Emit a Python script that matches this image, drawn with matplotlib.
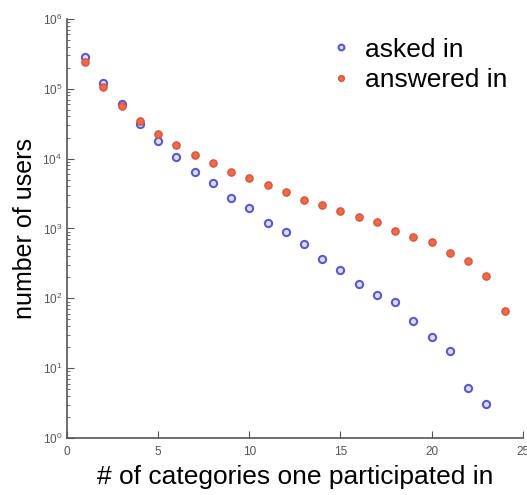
import matplotlib
matplotlib.use("Agg")
import matplotlib.pyplot as plt
from matplotlib.ticker import LogLocator, NullFormatter

plt.rcParams['font.family'] = ['Liberation Sans', 'DejaVu Sans']

# number of categories a user participated in
categories = list(range(1, 25))

# users who asked in that many categories (no value at 24)
asked = [2.8e5, 1.2e5, 6.0e4, 3.1e4, 1.8e4, 1.07e4, 6.5e3, 4.4e3, 2.75e3, 1.95e3,
         1.2e3, 890, 590, 360, 252, 161, 110, 88, 47, 28, 17.5, 5.2, 3.1]

# users who answered in that many categories
answered = [2.4e5, 1.05e5, 5.6e4, 3.5e4, 2.24e4, 1.55e4, 1.13e4, 8.5e3, 6.4e3, 5.2e3,
            4.2e3, 3.3e3, 2.57e3, 2.2e3, 1.78e3, 1.44e3, 1.23e3, 930, 750, 640,
            440, 337, 211, 65]

fig = plt.figure(figsize=(5.27, 4.95), dpi=100)
ax = fig.add_axes([0.127, 0.115, 0.865, 0.847])

ax.plot(categories[:len(asked)], asked, linestyle='none', marker='o', markersize=5.2,
        markerfacecolor='#dcdcf4', markeredgecolor='#5a5acb', markeredgewidth=1.5,
        label='asked in')
ax.plot(categories, answered, linestyle='none', marker='o', markersize=5.2,
        markerfacecolor='#ee6a4c', markeredgecolor='#d9553a', markeredgewidth=1.0,
        label='answered in')

ax.set_yscale('log')
ax.set_xlim(0, 25)
ax.set_ylim(1, 1e6)
ax.set_xticks([0, 5, 10, 15, 20, 25])
ax.yaxis.set_major_locator(LogLocator(base=10, numticks=10))
ax.yaxis.set_minor_locator(LogLocator(base=10, subs=range(2, 10), numticks=10))
ax.yaxis.set_minor_formatter(NullFormatter())

for side in ['top', 'right']:
    ax.spines[side].set_visible(False)
for side in ['left', 'bottom']:
    ax.spines[side].set_color('#555555')
    ax.spines[side].set_linewidth(1.2)

ax.tick_params(which='both', direction='in', colors='#555555', labelsize=8.5)
ax.tick_params(which='major', length=5)
ax.tick_params(which='minor', length=2.5)
ax.tick_params(axis='x', pad=6)

ax.set_xlabel('# of categories one participated in', fontsize=19, labelpad=5)
ax.set_ylabel('number of users', fontsize=18, labelpad=4)

ax.legend(loc='upper left', bbox_to_anchor=(0.515, 1.012), frameon=False,
          fontsize=19, handletextpad=0.3, handlelength=1.2, labelspacing=0.25,
          markerscale=0.8)

fig.savefig('out.png', dpi=100)
